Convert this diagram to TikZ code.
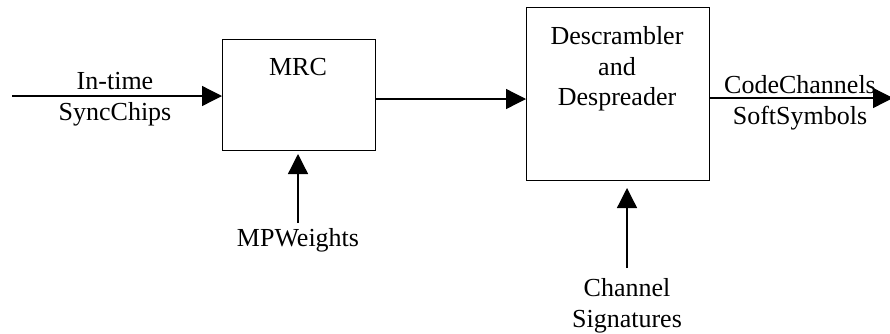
\documentclass[tikz,border=0pt]{standalone}
\usepackage{fontspec}
\setmainfont{Liberation Serif}
\usetikzlibrary{arrows.meta}
\begin{document}
\begin{tikzpicture}[x=1pt,y=1pt,
  blk/.style={draw,line width=1.3pt,inner sep=0pt,anchor=north west},
  txt/.style={font=\fontsize{26}{30.5}\selectfont,align=center,inner sep=0pt},
  conn/.style={line width=1.3pt,-{Triangle[length=20pt,width=20pt]}}]
\useasboundingbox (0,0) rectangle (890,-333);
% blocks
\node[blk,minimum width=153pt,minimum height=111pt] (mrc) at (222,-39) {};
\node[blk,minimum width=183pt,minimum height=173pt] (desc) at (526,-7) {};
% block texts
\node[txt] (mrct) at (298,-67) {MRC};
\node[txt] (desct) at (617,-69) {Descrambler\\and\\Despreader};
% signal labels
\node[txt] (inl) at (115,-99) {In-time\\SyncChips};
\node[txt] (outl) at (800,-103) {CodeChannels\\SoftSymbols};
\node[txt] (mpw) at (298,-240) {MPWeights};
\node[txt] (chs) at (627,-306) {Channel\\Signatures};
% coordinates
\coordinate (in) at (12,-96);
\coordinate (out) at (893,-98);
\coordinate (mpws) at (298,-223);
\coordinate (mpwe) at (298,-154);
\coordinate (chss) at (627,-268);
\coordinate (chse) at (627,-188);
% connectors
\draw[conn] (in) -- (in -| mrc.west);
\draw[conn] (mrc.east |- 0,-99) -- (desc.west |- 0,-99);
\draw[conn] (desc.east |- out) -- (out);
\draw[conn] (mpws) -- (mpwe);
\draw[conn] (chss) -- (chse);
\end{tikzpicture}
\end{document}
